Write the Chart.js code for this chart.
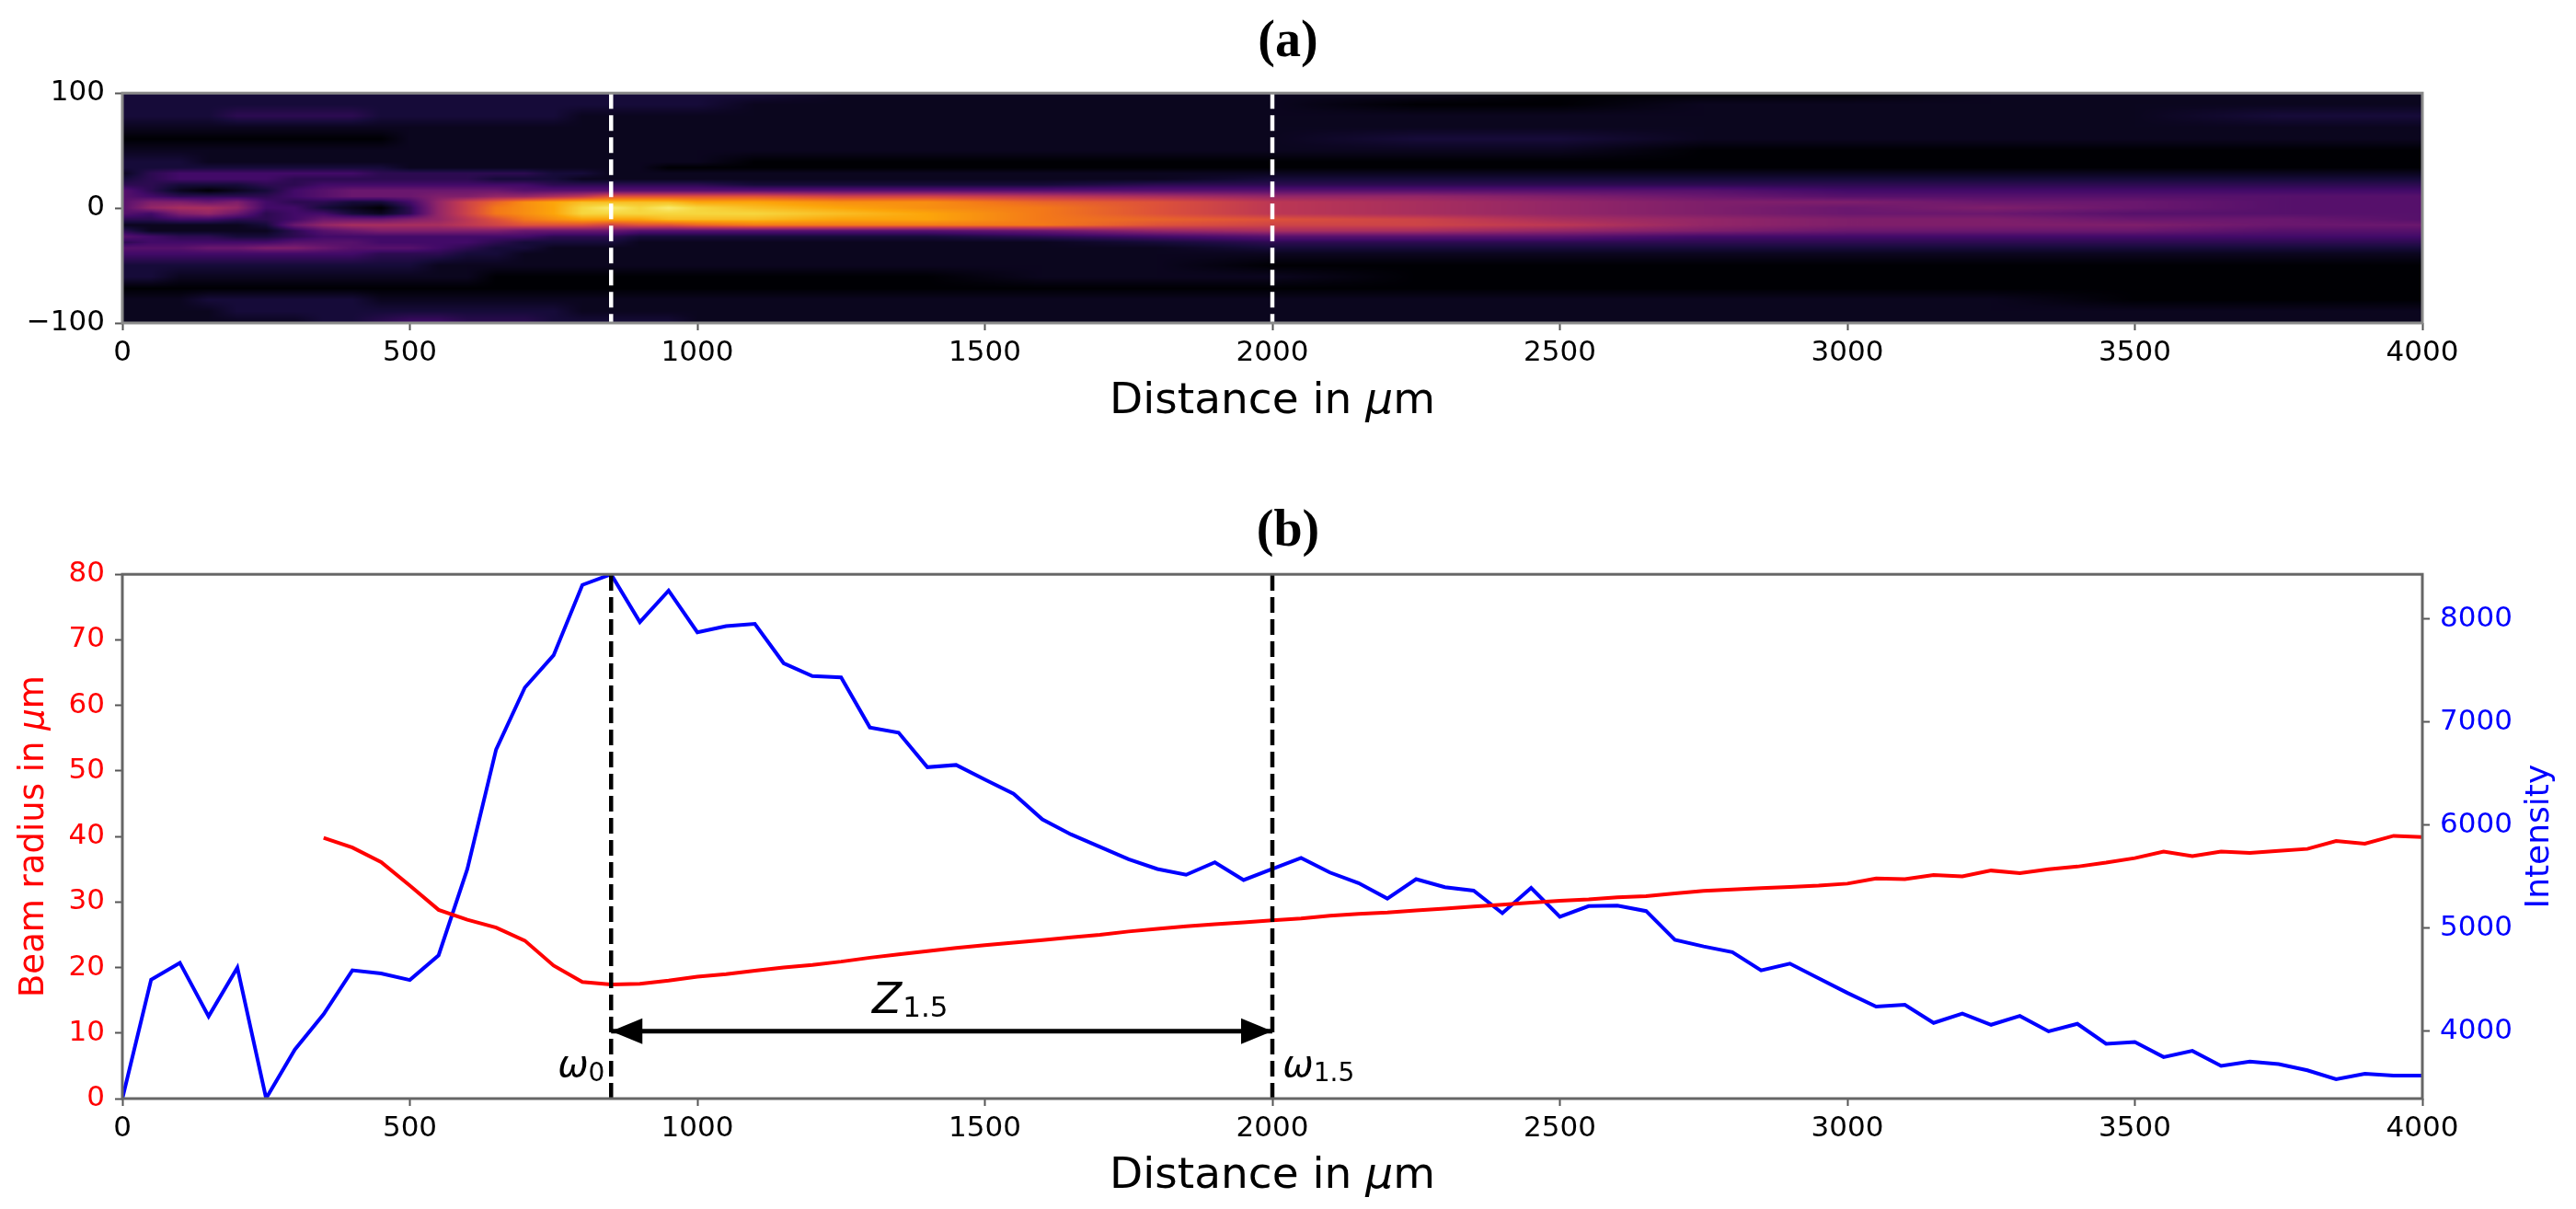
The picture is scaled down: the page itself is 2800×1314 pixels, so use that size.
<!DOCTYPE html>
<html lang="en">

<head>
    <meta charset="UTF-8">
    <title>Beam propagation</title>
    <script src="https://cdn.jsdelivr.net/npm/chart.js"></script>
    <style>
        html, body { margin: 0; padding: 0; background: #fff; }
        canvas { position: absolute; left: 0; filter: blur(0.6px); }
        #chartA { top: 0; }
        #chartB { top: 500px; }
    </style>
</head>

<body>
    <canvas id="chartA" width="2800" height="500"></canvas>
    <canvas id="chartB" width="2800" height="814"></canvas>

    <script>
        // panel (b) curves, sampled every 50 um
        const intensityX = [0, 50, 100, 150, 200, 250, 300, 350, 400, 450, 500, 550, 600, 650, 700, 750, 800, 850, 900, 950,
            1000, 1050, 1100, 1150, 1200, 1250, 1300, 1350, 1400, 1450, 1500, 1550, 1600, 1650, 1700, 1750, 1800, 1850, 1900, 1950,
            2000, 2050, 2100, 2150, 2200, 2250, 2300, 2350, 2400, 2450, 2500, 2550, 2600, 2650, 2700, 2750, 2800, 2850, 2900, 2950,
            3000, 3050, 3100, 3150, 3200, 3250, 3300, 3350, 3400, 3450, 3500, 3550, 3600, 3650, 3700, 3750, 3800, 3850, 3900, 3950, 4000];
        const intensity = [3348, 4502, 4665, 4146, 4618, 3350, 3824, 4167, 4592, 4562, 4498, 4738, 5575, 6734, 7335, 7648, 8330, 8433, 7970, 8275,
            7871, 7931, 7953, 7571, 7446, 7433, 6948, 6897, 6562, 6584, 6442, 6305, 6056, 5910, 5790, 5670, 5575, 5519, 5639, 5468,
            5575, 5682, 5541, 5438, 5288, 5476, 5399, 5365, 5146, 5391, 5112, 5215, 5219, 5167, 4888, 4824, 4768, 4592, 4657, 4515,
            4373, 4240, 4258, 4082, 4172, 4064, 4150, 4000, 4073, 3880, 3897, 3751, 3811, 3665, 3708, 3682, 3622, 3536, 3588, 3571, 3571];
        const radiusX = [350, 400, 450, 500, 550, 600, 650, 700, 750, 800, 850, 900, 950,
            1000, 1050, 1100, 1150, 1200, 1250, 1300, 1350, 1400, 1450, 1500, 1550, 1600, 1650, 1700, 1750, 1800, 1850, 1900, 1950,
            2000, 2050, 2100, 2150, 2200, 2250, 2300, 2350, 2400, 2450, 2500, 2550, 2600, 2650, 2700, 2750, 2800, 2850, 2900, 2950,
            3000, 3050, 3100, 3150, 3200, 3250, 3300, 3350, 3400, 3450, 3500, 3550, 3600, 3650, 3700, 3750, 3800, 3850, 3900, 3950, 4000];
        const radius = [39.8, 38.3, 36.1, 32.5, 28.8, 27.3, 26.1, 24.1, 20.3, 17.8, 17.4, 17.5, 18.0,
            18.6, 19.0, 19.5, 20.0, 20.4, 20.9, 21.5, 22.0, 22.5, 23.0, 23.4, 23.8, 24.2, 24.6, 25.0, 25.5, 25.9, 26.3, 26.6, 26.9,
            27.2, 27.5, 27.9, 28.2, 28.4, 28.7, 29.0, 29.3, 29.6, 29.9, 30.2, 30.4, 30.7, 30.9, 31.3, 31.7, 31.9, 32.1, 32.3, 32.5,
            32.8, 33.6, 33.5, 34.1, 33.9, 34.8, 34.4, 35.0, 35.4, 36.0, 36.7, 37.7, 37.0, 37.7, 37.5, 37.8, 38.1, 39.3, 38.9, 40.1, 39.9];

        // marked positions
        const waistX = 850;
        const z15X = 2000;
        const arrowY = 10.3;

        // axis ticks
        const distanceTicks = [0, 500, 1000, 1500, 2000, 2500, 3000, 3500, 4000];
        const heatTicks = [-100, 0, 100];
        const radiusTicks = [0, 10, 20, 30, 40, 50, 60, 70, 80];
        const intensityTicks = [4000, 5000, 6000, 7000, 8000];

        // panel (a) map, levels 0..20
        const heatX = [0, 50, 100, 150, 200, 250, 300, 350, 400, 450, 500, 550, 600, 650, 700, 750, 800, 850, 900, 950, 1000,
            1100, 1250, 1400, 1600, 1800, 2000, 2250, 2500, 2750, 3000, 3250, 3500, 3750, 4000];
        const heatY = [100, 90, 80, 70, 60, 50, 40, 35, 30, 25, 20, 15, 10, 5, 0, -5, -10, -15, -20, -25, -30, -35, -40, -50, -60, -70, -80, -90, -100];
        const heatLevels = [
            [2, 2, 2, 2, 2, 2, 2, 2, 2, 2, 2, 2, 2, 2, 2, 2, 2, 2, 2, 2, 2, 2, 1, 1, 1, 1, 1, 1, 0, 0, 0, 1, 1, 1, 1],
            [2, 2, 2, 2, 2, 2, 2, 2, 2, 2, 2, 2, 2, 2, 2, 2, 2, 2, 2, 2, 2, 1, 1, 1, 1, 1, 1, 0, 0, 1, 1, 1, 1, 1, 1],
            [2, 2, 2, 2, 3, 3, 3, 3, 3, 2, 2, 2, 2, 2, 2, 2, 1, 1, 1, 1, 1, 1, 1, 1, 1, 1, 1, 1, 1, 1, 1, 1, 1, 2, 2],
            [1, 1, 1, 1, 1, 1, 1, 1, 1, 1, 1, 1, 1, 1, 1, 1, 1, 1, 1, 1, 1, 1, 1, 1, 1, 1, 1, 1, 1, 1, 1, 1, 1, 1, 1],
            [0, 0, 0, 0, 0, 0, 0, 0, 0, 0, 1, 1, 1, 1, 1, 1, 1, 1, 1, 1, 1, 1, 1, 1, 1, 1, 1, 2, 2, 1, 1, 1, 1, 1, 1],
            [1, 1, 1, 1, 1, 1, 1, 1, 1, 1, 1, 1, 1, 1, 1, 1, 1, 1, 1, 1, 1, 1, 1, 1, 1, 1, 1, 1, 1, 0, 0, 0, 0, 0, 0],
            [2, 2, 2, 1, 1, 1, 1, 1, 1, 1, 1, 1, 1, 1, 1, 1, 1, 1, 1, 1, 1, 0, 0, 0, 0, 0, 0, 0, 0, 0, 0, 0, 0, 0, 0],
            [2, 2, 2, 2, 2, 2, 2, 2, 2, 2, 1, 1, 1, 1, 1, 1, 1, 1, 1, 0, 0, 0, 0, 0, 0, 0, 0, 0, 0, 0, 0, 0, 0, 0, 0],
            [1, 3, 4, 4, 4, 4, 4, 4, 4, 3, 3, 3, 3, 3, 3, 2, 2, 1, 1, 1, 1, 1, 1, 1, 1, 1, 1, 1, 1, 1, 1, 1, 1, 1, 1],
            [2, 3, 4, 4, 4, 4, 3, 3, 3, 3, 3, 3, 3, 2, 2, 2, 1, 1, 1, 1, 1, 1, 1, 1, 1, 1, 2, 2, 2, 2, 2, 2, 2, 2, 2],
            [3, 3, 2, 2, 2, 3, 3, 4, 4, 4, 4, 4, 4, 4, 4, 3, 3, 3, 3, 3, 3, 2, 2, 2, 2, 3, 3, 3, 3, 3, 3, 3, 3, 3, 3],
            [5, 3, 1, 0, 1, 2, 4, 5, 6, 6, 6, 6, 6, 6, 5, 5, 5, 5, 5, 5, 5, 5, 5, 5, 5, 5, 5, 5, 5, 5, 4, 4, 4, 4, 4],
            [5, 4, 3, 3, 3, 3, 4, 5, 6, 6, 6, 7, 7, 8, 8, 9, 10, 12, 12, 12, 12, 12, 11, 11, 10, 9, 8, 8, 7, 6, 5, 5, 5, 5, 5],
            [5, 7, 7, 6, 7, 4, 3, 3, 2, 2, 4, 8, 11, 13, 15, 16, 17, 17, 17, 17, 16, 16, 15, 15, 13, 12, 10, 9, 8, 7, 7, 6, 6, 5, 5],
            [5, 8, 9, 9, 8, 4, 4, 2, 1, 0, 3, 8, 11, 14, 15, 16, 18, 19, 18, 19, 18, 17, 16, 15, 14, 12, 10, 9, 8, 7, 6, 7, 6, 5, 5],
            [5, 4, 7, 8, 6, 3, 4, 4, 2, 1, 3, 8, 11, 14, 15, 16, 18, 18, 18, 18, 18, 18, 17, 16, 14, 12, 10, 9, 8, 7, 6, 6, 5, 5, 5],
            [3, 3, 4, 4, 3, 3, 4, 6, 6, 6, 7, 8, 10, 12, 14, 15, 16, 16, 16, 17, 17, 17, 16, 16, 14, 13, 12, 11, 9, 8, 7, 7, 6, 6, 5],
            [1, 1, 1, 1, 1, 2, 6, 8, 9, 9, 9, 9, 10, 11, 12, 12, 12, 11, 12, 12, 13, 14, 14, 14, 14, 12, 11, 11, 10, 8, 7, 7, 7, 6, 6],
            [3, 1, 1, 1, 1, 1, 3, 5, 6, 7, 7, 7, 7, 7, 6, 6, 6, 6, 5, 5, 5, 5, 5, 5, 6, 8, 9, 9, 8, 7, 6, 6, 6, 5, 5],
            [5, 4, 3, 3, 2, 2, 3, 4, 4, 4, 4, 4, 4, 4, 4, 3, 3, 3, 2, 2, 2, 2, 2, 2, 3, 4, 5, 5, 5, 4, 4, 4, 4, 4, 4],
            [3, 4, 4, 4, 4, 4, 5, 5, 5, 4, 4, 4, 4, 3, 2, 2, 2, 2, 1, 1, 1, 1, 1, 1, 1, 2, 3, 3, 3, 3, 3, 3, 3, 3, 3],
            [5, 5, 5, 6, 6, 7, 7, 6, 5, 5, 5, 4, 3, 2, 2, 1, 1, 1, 1, 1, 1, 1, 1, 1, 1, 1, 2, 2, 2, 2, 2, 2, 2, 2, 2],
            [4, 4, 4, 4, 4, 4, 4, 4, 4, 3, 3, 3, 2, 2, 1, 1, 1, 1, 1, 1, 1, 1, 1, 1, 1, 1, 1, 1, 1, 1, 1, 1, 1, 1, 1],
            [2, 2, 2, 2, 2, 2, 2, 2, 2, 2, 2, 1, 1, 1, 1, 1, 1, 1, 1, 1, 1, 1, 1, 1, 1, 1, 0, 0, 0, 0, 0, 0, 0, 0, 0],
            [2, 2, 1, 1, 1, 1, 1, 1, 1, 1, 1, 1, 1, 0, 0, 0, 0, 0, 0, 0, 0, 0, 0, 0, 1, 1, 1, 0, 0, 0, 0, 0, 0, 0, 0],
            [0, 0, 0, 0, 0, 0, 0, 0, 0, 0, 0, 0, 0, 0, 0, 0, 0, 0, 0, 0, 0, 0, 0, 0, 0, 0, 0, 0, 0, 0, 0, 0, 0, 0, 0],
            [1, 1, 1, 2, 2, 2, 2, 2, 2, 1, 1, 1, 1, 1, 1, 1, 1, 1, 1, 1, 1, 1, 1, 1, 1, 1, 1, 1, 1, 1, 1, 1, 0, 0, 0],
            [1, 1, 1, 1, 2, 2, 2, 2, 2, 2, 2, 2, 2, 2, 2, 2, 1, 1, 1, 1, 1, 1, 1, 1, 1, 1, 1, 1, 1, 1, 1, 1, 1, 1, 1],
            [1, 1, 1, 1, 1, 1, 1, 2, 2, 3, 4, 4, 3, 3, 3, 2, 2, 2, 2, 2, 1, 1, 1, 1, 1, 1, 1, 1, 1, 1, 1, 1, 1, 1, 1]
        ];

        // inferno colours for levels 0, 2, 4 ... 20
        const inferno = [[0, 0, 4], [22, 11, 57], [66, 10, 104], [106, 23, 110], [147, 38, 103], [188, 55, 84],
            [221, 81, 58], [243, 120, 25], [252, 165, 10], [246, 214, 62], [252, 255, 164]];

        const sansFont = "'DejaVu Sans'";
        const serifFont = "'Liberation Serif'";

        function findCell(values, v) {
            // works for ascending or descending lists
            const sign = values[1] > values[0] ? 1 : -1;
            let i = 0;
            while (i < values.length - 2 && sign * v > sign * values[i + 1]) i++;
            return [i, Math.min(1, Math.max(0, (v - values[i]) / (values[i + 1] - values[i])))];
        }

        function levelColor(level) {
            const p = Math.min(level / 2, inferno.length - 1.001);
            const i = Math.floor(p), f = p - i;
            return inferno[i].map((c, k) => c + (inferno[i + 1][k] - c) * f);
        }

        // smooth image of the map, like imshow with interpolation
        const heatmapPlugin = {
            id: 'heatmapPlugin',
            beforeDatasetsDraw(chart) {
                const { ctx, chartArea: area, scales } = chart;
                const w = Math.round(area.right - area.left), h = Math.round(area.bottom - area.top);
                const img = ctx.createImageData(w, h);
                for (let py = 0; py < h; py++) {
                    const [r, fr] = findCell(heatY, scales.y.getValueForPixel(area.top + py + 0.5));
                    for (let px = 0; px < w; px++) {
                        const [c, fc] = findCell(heatX, scales.x.getValueForPixel(area.left + px + 0.5));
                        const top = heatLevels[r][c] * (1 - fc) + heatLevels[r][c + 1] * fc;
                        const bottom = heatLevels[r + 1][c] * (1 - fc) + heatLevels[r + 1][c + 1] * fc;
                        const rgb = levelColor(top * (1 - fr) + bottom * fr);
                        const k = (py * w + px) * 4;
                        img.data[k] = rgb[0];
                        img.data[k + 1] = rgb[1];
                        img.data[k + 2] = rgb[2];
                        img.data[k + 3] = 255;
                    }
                }
                ctx.putImageData(img, Math.round(area.left), Math.round(area.top));
            }
        };

        // frame on all four sides
        function framePlugin(color) {
            return {
                id: 'framePlugin',
                afterDatasetsDraw(chart) {
                    const { ctx, chartArea: a } = chart;
                    ctx.save();
                    ctx.strokeStyle = color;
                    ctx.lineWidth = 3;
                    ctx.strokeRect(a.left, a.top, a.right - a.left, a.bottom - a.top);
                    ctx.restore();
                }
            };
        }

        function drawText(ctx, text, x, y, font, color) {
            ctx.font = font;
            ctx.fillStyle = color || '#000';
            ctx.fillText(text, x, y);
            return x + ctx.measureText(text).width;
        }

        // draws "Distance in ", italic mu, "m" so the mu leans like the original
        function drawMuLabel(ctx, before, cx, cy, size, color, rotation) {
            const plain = size + 'px ' + sansFont, oblique = 'italic ' + plain;
            ctx.save();
            ctx.translate(cx, cy);
            ctx.rotate(rotation);
            ctx.textBaseline = 'middle';
            ctx.textAlign = 'left';
            ctx.font = plain;
            const w1 = ctx.measureText(before).width, w3 = ctx.measureText('m').width;
            ctx.font = oblique;
            const w2 = ctx.measureText('\u03bc').width;
            let x = -(w1 + w2 + w3) / 2;
            x = drawText(ctx, before, x, 0, plain, color);
            x = drawText(ctx, '\u03bc', x, 0, oblique, color);
            drawText(ctx, 'm', x, 0, plain, color);
            ctx.restore();
        }

        const labelsA = {
            id: 'labelsA',
            afterDraw(chart) {
                const a = chart.chartArea;
                drawMuLabel(chart.ctx, 'Distance in ', (a.left + a.right) / 2, 437, 47, '#000', 0);
            }
        };

        const labelsB = {
            id: 'labelsB',
            afterDraw(chart) {
                const { ctx, chartArea: a, scales } = chart;
                const off = chart.canvas.offsetTop;
                drawMuLabel(ctx, 'Distance in ', (a.left + a.right) / 2, 1279 - off, 47, '#000', 0);
                drawMuLabel(ctx, 'Beam radius in ', 37, (a.top + a.bottom) / 2, 37, '#ff0000', -Math.PI / 2);

                ctx.save();
                ctx.translate(2761, (a.top + a.bottom) / 2);
                ctx.rotate(-Math.PI / 2);
                ctx.textAlign = 'center';
                ctx.textBaseline = 'middle';
                drawText(ctx, 'Intensity', 0, 0, '36px ' + sansFont, '#0000ff');
                ctx.restore();

                // arrow heads on the Z1.5 span
                const yA = scales.y.getPixelForValue(arrowY);
                const head = (tip, dir) => {
                    ctx.beginPath();
                    ctx.moveTo(tip, yA);
                    ctx.lineTo(tip + dir * 34, yA - 14);
                    ctx.lineTo(tip + dir * 34, yA + 14);
                    ctx.closePath();
                    ctx.fill();
                };
                ctx.fillStyle = '#000';
                head(scales.x.getPixelForValue(waistX), 1);
                head(scales.x.getPixelForValue(z15X), -1);

                // math labels
                ctx.textAlign = 'left';
                ctx.textBaseline = 'alphabetic';
                const obl = s => 'italic ' + s + 'px ' + sansFont;
                const sub = s => s + 'px ' + sansFont;
                let yT = scales.y.getPixelForValue(13.05);
                let x = drawText(ctx, 'Z', scales.x.getPixelForValue(1304), yT, obl(47));
                drawText(ctx, '1.5', x + 1, yT + 4, sub(31));
                yT = scales.y.getPixelForValue(3.37);
                x = drawText(ctx, '\u03c9', scales.x.getPixelForValue(757), yT, obl(40));
                drawText(ctx, '0', x, yT + 5, sub(28));
                x = drawText(ctx, '\u03c9', scales.x.getPixelForValue(2018), yT, obl(40));
                drawText(ctx, '1.5', x, yT + 5, sub(28));
            }
        };

        function xScale(height, tickColor) {
            return {
                type: 'linear',
                min: 0,
                max: 4000,
                afterBuildTicks: s => { s.ticks = distanceTicks.map(v => ({ value: v })); },
                afterFit: s => { s.height = height; },
                grid: { drawOnChartArea: false, drawTicks: true, tickLength: 8, tickWidth: 2, tickColor: tickColor },
                border: { display: false },
                ticks: {
                    color: '#000', font: { family: sansFont, size: 31 }, padding: 6,
                    maxRotation: 0, autoSkip: false, callback: v => String(v)
                }
            };
        }

        function yScale(position, width, min, max, tickList, color, tickColor) {
            return {
                type: 'linear',
                position: position,
                min: min,
                max: max,
                afterBuildTicks: s => { s.ticks = tickList.map(v => ({ value: v })); },
                afterFit: s => { s.width = width; },
                grid: { drawOnChartArea: false, drawTicks: true, tickLength: 8, tickWidth: 2, tickColor: tickColor },
                border: { display: false },
                ticks: {
                    color: color, font: { family: sansFont, size: 31 }, padding: 11,
                    autoSkip: false, callback: v => String(v).replace('-', '\u2212')
                }
            };
        }

        function titleOptions(text, top, bottom) {
            return {
                display: true,
                text: text,
                color: '#000',
                font: { family: serifFont, size: 56, weight: 'bold', lineHeight: 1.2 },
                padding: { top: top, bottom: bottom }
            };
        }

        function markerLine(x, y0, y1, color, yAxisID) {
            return {
                type: 'line',
                data: [{ x: x, y: y0 }, { x: x, y: y1 }],
                yAxisID: yAxisID,
                borderColor: color,
                borderWidth: 4.5,
                borderDash: [17, 7],
                pointRadius: 0,
                tension: 0
            };
        }

        new Chart(document.getElementById('chartA'), {
            type: 'line',
            data: {
                datasets: [
                    markerLine(waistX, 100, -100, '#ffffff', 'y'),
                    markerLine(z15X, 100, -100, '#ffffff', 'y')
                ]
            },
            options: {
                responsive: false,
                animation: false,
                devicePixelRatio: 1,
                plugins: {
                    legend: { display: false },
                    tooltip: { enabled: false },
                    title: titleOptions('(a)', 13, 21)
                },
                scales: {
                    x: xScale(149, '#555555'),
                    y: yScale('left', 133, -100, 100, heatTicks, '#000', '#555555'),
                    // empty right column so both panels line up
                    y2: {
                        position: 'right',
                        afterFit: s => { s.width = 167; },
                        grid: { display: false },
                        border: { display: false },
                        ticks: { display: false }
                    }
                }
            },
            plugins: [heatmapPlugin, framePlugin('#8a8a8a'), labelsA]
        });

        new Chart(document.getElementById('chartB'), {
            type: 'line',
            data: {
                datasets: [
                    markerLine(waistX, 0, 80, '#000000', 'y'),
                    markerLine(z15X, 0, 80, '#000000', 'y'),
                    {
                        type: 'line',
                        data: [{ x: waistX, y: arrowY }, { x: z15X, y: arrowY }],
                        yAxisID: 'y',
                        borderColor: '#000000',
                        borderWidth: 5,
                        pointRadius: 0
                    },
                    {
                        type: 'line',
                        data: radiusX.map((x, i) => ({ x: x, y: radius[i] })),
                        yAxisID: 'y',
                        borderColor: '#ff0000',
                        borderWidth: 4,
                        pointRadius: 0,
                        tension: 0
                    },
                    {
                        type: 'line',
                        data: intensityX.map((x, i) => ({ x: x, y: intensity[i] })),
                        yAxisID: 'y2',
                        borderColor: '#0000ff',
                        borderWidth: 4,
                        pointRadius: 0,
                        tension: 0
                    }
                ]
            },
            options: {
                responsive: false,
                animation: false,
                devicePixelRatio: 1,
                plugins: {
                    legend: { display: false },
                    tooltip: { enabled: false },
                    title: titleOptions('(b)', 45, 12)
                },
                scales: {
                    x: xScale(120, '#555555'),
                    y: yScale('left', 133, 0, 80, radiusTicks, '#ff0000', '#555555'),
                    y2: yScale('right', 167, 3348, 8433, intensityTicks, '#0000ff', '#555555')
                }
            },
            plugins: [framePlugin('#666666'), labelsB]
        });
    </script>
</body>

</html>
